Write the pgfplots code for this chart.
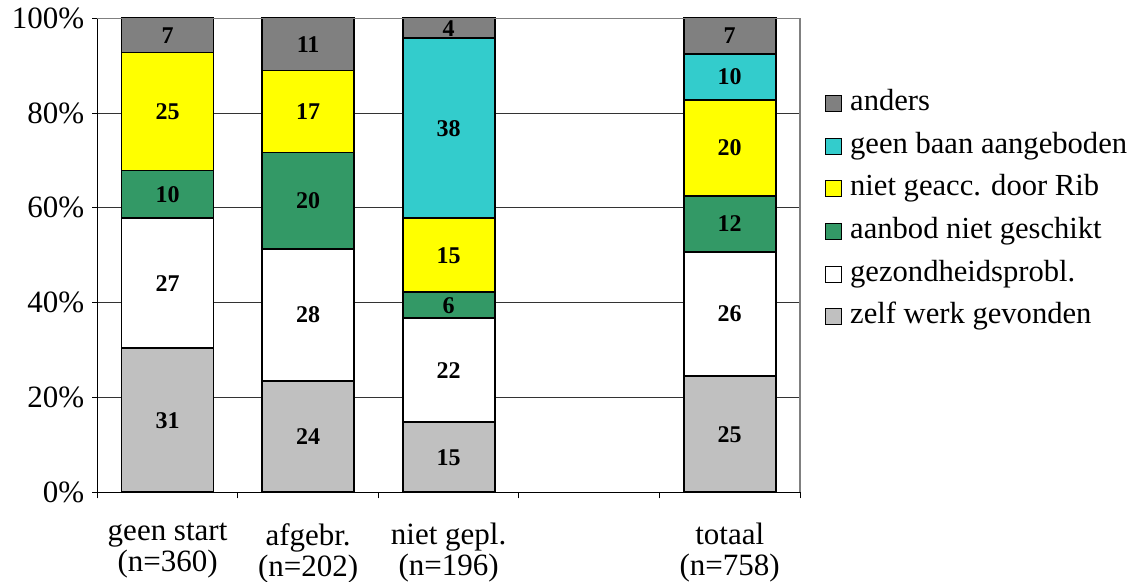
\documentclass[border=0pt]{standalone}
\usepackage{pgfplots}
\pgfplotsset{compat=1.18}
\usepackage{pgfplotstable}
\usepackage{fontspec}
\setmainfont{Liberation Serif}
\definecolor{cZelf}{HTML}{C0C0C0}
\definecolor{cGezond}{HTML}{FFFFFF}
\definecolor{cAanbod}{HTML}{339966}
\definecolor{cGeacc}{HTML}{FFFF00}
\definecolor{cGeenbaan}{HTML}{33CCCC}
\definecolor{cAnders}{HTML}{808080}

\pgfplotstableread{
x y lab
0 30.4 31
1 23.5 24
2 14.8 15
4 24.5 25
}\zelf
\pgfplotstableread{
x y lab
0 27.4 27
1 27.9 28
2 21.9 22
4 26.2 26
}\gezond
\pgfplotstableread{
x y lab
0 10.1 10
1 20.3 20
2 5.5 6
4 11.8 12
}\aanbod
\pgfplotstableread{
x y lab
0 24.9 25
1 17.3 17
2 15.6 15
4 20.3 20
}\geacc
\pgfplotstableread{
x y lab
0 0 {}
1 0 {}
2 38.0 38
4 9.7 10
}\geenbaan
\pgfplotstableread{
x y lab
0 7.2 7
1 11.0 11
2 4.2 4
4 7.5 7
}\anders

\begin{document}
\begin{tikzpicture}
\useasboundingbox (-48.65pt,-44.85pt) rectangle (523.35pt,246.15pt);
\begin{axis}[
  at={(0,0)}, anchor=south west,
  scale only axis, width=351.35pt, height=237pt,
  ybar stacked, bar width=46pt,
  xmin=-0.5, xmax=4.5, ymin=0, ymax=100,
  axis x line*=bottom, axis y line*=left,
  axis line style={-, black, line width=0.6pt},
  xtick={0,1,2,4},
  xticklabels={{geen start\\(n=360)},{afgebr.\\(n=202)},{niet gepl.\\(n=196)},{totaal\\(n=758)}},
  xticklabel style={align=center, font=\fontsize{15.5}{15.5}\selectfont, yshift=-9.5pt},
  minor xtick={-0.5,0.5,1.5,2.5,3.5,4.5},
  major x tick style={draw=none},
  minor x tick style={black, line width=0.5pt},
  tick align=outside, major tick length=2.5pt, minor tick length=3pt,
  ytick={0,20,40,60,80,100},
  yticklabels={0\%,20\%,40\%,60\%,80\%,100\%},
  yticklabel style={font=\fontsize{15.5}{17}\selectfont, xshift=-0.5pt},
  y tick style={black, line width=0.5pt},
  ymajorgrids, grid style={black!80, line width=0.5pt},
  point meta=explicit symbolic,
  nodes near coords,
  every node near coord/.append style={font=\fontsize{12}{13}\selectfont\bfseries, anchor=center},
  every axis plot/.append style={draw=black, line width=0.9pt},
  reverse legend,
  legend cell align=left,
  legend image code/.code={\draw[#1, line width=0.5pt, draw=black] (0pt,-4pt) rectangle (8pt,4pt); \path[draw=none, fill=none] (12.5pt,0pt) circle (0pt);},
  legend style={at={(1.026,0.595)}, anchor=west, draw=none, fill=none,
    font=\fontsize{15.3}{17}\selectfont, row sep=6.3pt,
    nodes={inner sep=0pt, text height=11pt, text depth=4pt}},
  clip=false,
]
\draw[gray, line width=0.6pt] (rel axis cs:0,1) -- (rel axis cs:1,1) -- (rel axis cs:1,0);
\addplot[fill=cZelf] table[x=x, y=y, meta=lab] {\zelf};
\addplot[fill=cGezond] table[x=x, y=y, meta=lab] {\gezond};
\addplot[fill=cAanbod] table[x=x, y=y, meta=lab] {\aanbod};
\addplot[fill=cGeacc] table[x=x, y=y, meta=lab] {\geacc};
\addplot[fill=cGeenbaan] table[x=x, y=y, meta=lab] {\geenbaan};
\addplot[fill=cAnders] table[x=x, y=y, meta=lab] {\anders};
\legend{zelf werk gevonden, gezondheidsprobl., aanbod niet geschikt, niet geacc. door Rib, geen baan aangeboden, anders}
\end{axis}
\end{tikzpicture}
\end{document}
